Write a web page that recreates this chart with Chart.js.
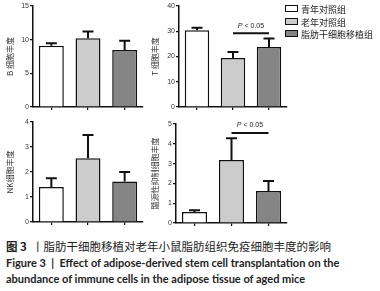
<!DOCTYPE html>
<html>
<head>
<meta charset="utf-8">
<script src="https://cdn.jsdelivr.net/npm/chart.js@4"></script>
<style>
  body { margin: 0; background: #fff; width: 380px; height: 291px; overflow: hidden; position: relative; font-family: "Liberation Sans", "Noto Sans CJK SC", sans-serif; }
  canvas { position: absolute; }
  .legend { position: absolute; left: 285px; top: 4px; font-family: "Noto Sans CJK SC", sans-serif; font-size: 9px; color: #222; }
  .legend div { height: 12.5px; line-height: 12.5px; white-space: nowrap; }
  .legend span.box { display: inline-block; width: 11px; height: 5px; border: 1px solid #111; margin-right: 3px; vertical-align: 1px; }
  .caption { position: absolute; left: 6px; top: 238px; color: #222; }
  .caption .cn { font-family: "Noto Sans CJK SC", sans-serif; font-size: 11.5px; line-height: 17px; white-space: nowrap; }
  .caption .en { font-family: "Lato", sans-serif; font-weight: bold; font-size: 11px; line-height: 16px; white-space: nowrap; }
</style>
</head>
<body>
<canvas id="cB" width="150" height="118" style="left:0;top:0"></canvas>
<canvas id="cT" width="145" height="118" style="left:145px;top:0"></canvas>
<canvas id="cNK" width="150" height="118" style="left:0;top:116px"></canvas>
<canvas id="cM" width="145" height="118" style="left:145px;top:116px"></canvas>

<div class="legend">
  <div><span class="box" style="background:#ffffff"></span>青年对照组</div>
  <div><span class="box" style="background:#cccccc"></span>老年对照组</div>
  <div><span class="box" style="background:#858585"></span>脂肪干细胞移植组</div>
</div>

<div class="caption">
  <div class="cn"><b>图 3</b> &nbsp;丨脂肪干细胞移植对老年小鼠脂肪组织免疫细胞丰度的影响</div>
  <div class="en">Figure 3 &nbsp;|&nbsp; Effect of adipose-derived stem cell transplantation on the</div>
  <div class="en">abundance of immune cells in the adipose tissue of aged mice</div>
</div>

<script>
const groups = ['青年对照组', '老年对照组', '脂肪干细胞移植组'];
const colors = ['#ffffff', '#cccccc', '#858585'];

// mean and SEM
const bValues = [9.1, 10.2, 8.45];
const bErrors = [0.35, 1.0, 1.4];
const tValues = [30.4, 19.4, 23.8];
const tErrors = [1.0, 2.4, 3.3];
const nkValues = [1.4, 2.55, 1.62];
const nkErrors = [0.35, 0.93, 0.38];
const mValues = [0.56, 3.18, 1.62];
const mErrors = [0.08, 1.1, 0.5];

// significance bars: [from group, to group, height]
const tSig = [1, 2, 29.2];
const mSig = [1, 2, 4.55];

const errorBars = {
    id: 'errorBars',
    afterDatasetsDraw(chart, args, opts) {
        const ctx = chart.ctx;
        const yScale = chart.scales.y;
        const bars = chart.getDatasetMeta(0).data;
        ctx.save();
        ctx.strokeStyle = '#111';
        ctx.lineWidth = 2;
        bars.forEach((bar, i) => {
            const top = yScale.getPixelForValue(opts.values[i] + opts.errors[i]);
            ctx.beginPath();
            ctx.moveTo(bar.x, bar.y);
            ctx.lineTo(bar.x, top);
            ctx.moveTo(bar.x - 5.5, top);
            ctx.lineTo(bar.x + 5.5, top);
            ctx.stroke();
        });
        if (opts.sig) {
            const [a, b, h] = opts.sig;
            const y = yScale.getPixelForValue(h);
            ctx.beginPath();
            ctx.moveTo(bars[a].x, y);
            ctx.lineTo(bars[b].x, y);
            ctx.stroke();
            // "P < 0.05" with italic P, centred over the line
            ctx.fillStyle = '#222';
            ctx.textBaseline = 'bottom';
            ctx.textAlign = 'left';
            const mid = (bars[a].x + bars[b].x) / 2;
            ctx.font = 'italic 7px "Liberation Sans"';
            const pw = ctx.measureText('P').width;
            ctx.font = '7px "Liberation Sans"';
            const rw = ctx.measureText(' < 0.05').width;
            const x0 = mid - (pw + rw) / 2;
            ctx.font = 'italic 7px "Liberation Sans"';
            ctx.fillText('P', x0, y - 4);
            ctx.font = '7px "Liberation Sans"';
            ctx.fillText(' < 0.05', x0 + pw, y - 4);
        }
        ctx.restore();
    }
};

function makePanel(id, values, errors, max, step, title, yWidth, xHeight, pad, sig) {
    const ctx = document.getElementById(id).getContext('2d');
    return new Chart(ctx, {
        type: 'bar',
        data: {
            labels: groups,
            datasets: [{
                data: values,
                backgroundColor: colors,
                borderColor: '#111',
                borderWidth: 1.5,
                categoryPercentage: 1,
                barPercentage: 0.68
            }]
        },
        options: {
            responsive: false,
            animation: false,
            devicePixelRatio: 1,
            layout: { padding: pad },
            plugins: {
                legend: { display: false },
                tooltip: { enabled: false },
                errorBars: { values: values, errors: errors, sig: sig }
            },
            scales: {
                x: {
                    grid: { offset: false, drawOnChartArea: false, drawTicks: true, tickLength: 3, color: '#111', lineWidth: 1.2 },
                    border: { color: '#111', width: 1.5 },
                    ticks: { display: false },
                    afterFit(scale) { scale.height = xHeight; }
                },
                y: {
                    min: 0,
                    max: max,
                    ticks: { stepSize: step, color: '#333', font: { size: 7, family: 'Liberation Sans' }, padding: 1 },
                    grid: { drawOnChartArea: false, tickLength: 3, color: '#111', lineWidth: 1.2 },
                    border: { color: '#111', width: 1.5 },
                    title: { display: true, text: title, color: '#333', font: { size: 8, family: 'Noto Sans CJK SC' }, padding: { top: 5, bottom: 0 } },
                    afterFit(scale) { scale.width = yWidth; }
                }
            }
        },
        plugins: [errorBars]
    });
}

makePanel('cB', bValues, bErrors, 15, 5, 'B 细胞丰度', 33, 11, { top: 6, right: 7, left: 0, bottom: 0 }, null);
makePanel('cT', tValues, tErrors, 40, 10, 'T 细胞丰度', 34, 11, { top: 6, right: 3, left: 0, bottom: 0 }, tSig);
makePanel('cNK', nkValues, nkErrors, 4, 1, 'NK细胞丰度', 33, 12, { top: 6, right: 7, left: 0, bottom: 0 }, null);
makePanel('cM', mValues, mErrors, 5, 1, '髓源性抑制细胞丰度', 31, 11, { top: 8, right: 3, left: 0, bottom: 0 }, mSig);
</script>
</body>
</html>
